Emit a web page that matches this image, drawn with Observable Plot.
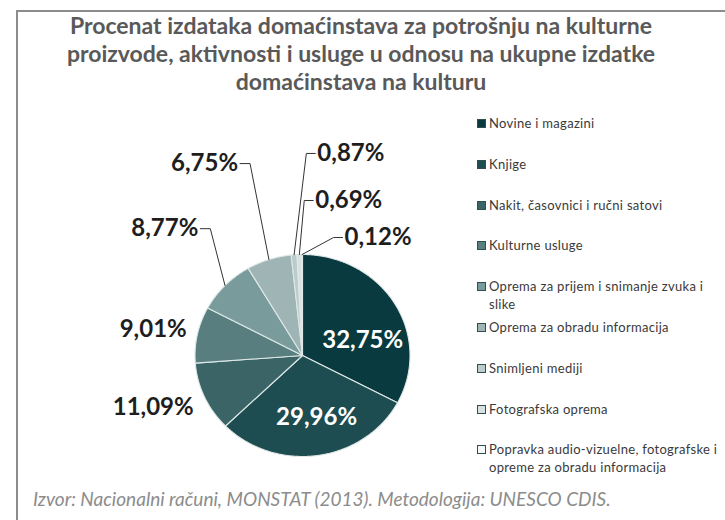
<!DOCTYPE html>
<html><head><meta charset="utf-8">
<script src="https://cdn.jsdelivr.net/npm/d3@7"></script>
<script src="https://cdn.jsdelivr.net/npm/@observablehq/plot@0.6"></script>
<style>
html,body{margin:0;padding:0;background:#fff;}
#wrap{position:relative;width:725px;height:520px;overflow:hidden;font-family:Lato,"Open Sans",sans-serif;background:#fff;}
#frame{position:absolute;left:16px;top:10px;width:800px;height:600px;border:2px solid #8c8c8c;box-sizing:border-box;}
#title{position:absolute;left:0;top:11px;width:722px;text-align:center;font-weight:bold;font-size:23px;line-height:28px;color:#595959;}
#chart{position:absolute;left:0;top:100px;}
#legend{position:absolute;left:476px;top:114px;width:247px;}
.item{position:relative;height:40.8px;font-size:13px;letter-spacing:0.3px;line-height:18px;color:#3a3a3a;padding-left:13px;box-sizing:border-box;}
.sw{position:absolute;left:1px;top:5px;width:9px;height:9px;border:1px solid #2f4f50;box-sizing:border-box;}
#caption{position:absolute;left:33px;top:487px;font-style:italic;font-size:19px;color:#8c8c8c;white-space:nowrap;}
</style></head>
<body>
<div id="wrap">
  <div id="frame"></div>
  <div id="title"></div>
  <div id="chart"></div>
  <div id="legend"></div>
  <div id="caption"></div>
</div>
<script>
// ---- data ----
const titleLines = [
  "Procenat izdataka domaćinstava za potrošnju na kulturne",
  "proizvode, aktivnosti i usluge u odnosu na ukupne izdatke",
  "domaćinstava na kulturu"
];
const categories = [
  "Novine i magazini",
  "Knjige",
  "Nakit, časovnici i ručni satovi",
  "Kulturne usluge",
  "Oprema za prijem i snimanje zvuka i slike",
  "Oprema za obradu informacija",
  "Snimljeni mediji",
  "Fotografska oprema",
  "Popravka audio-vizuelne, fotografske i opreme za obradu informacija"
];
const shares = [32.75, 29.96, 11.09, 9.01, 8.77, 6.75, 0.87, 0.69, 0.12];
const sourceNote = "Izvor: Nacionalni računi, MONSTAT (2013). Metodologija: UNESCO CDIS.";

// ---- styles / layout ----
const colors = ["#083a3f", "#1d4d51", "#3b6466", "#587e7f", "#7a9b9c", "#9fb4b5", "#bccbcc", "#d8e1e1", "#f4f7f7"];
// label placement: angle offset (deg) from slice middle and distance (pie radii)
const labelLayout = [
  {turn: 16, dist: 0.58, place: "in"},
  {turn: -3.8, dist: 0.63, place: "in"},
  {turn: -3.2, dist: 1.12, place: "left"},
  {turn: 2.0, dist: 1.09, place: "left"},
  {turn: 9.0, dist: 1.575, place: "left", leader: true},
  {turn: 1.2, dist: 1.987, place: "left", leader: true},
  {turn: 7.9, dist: 2.004, place: "right", leader: true},
  {turn: 5.4, dist: 1.538, place: "right", leader: true},
  {turn: 17.9, dist: 1.226, place: "right", leader: true}
];

const W = 725, H = 378, cx = 302, cy = 255, rx = 107.5, ry = 101;

document.getElementById("title").innerHTML = titleLines.join("<br>");
document.getElementById("caption").textContent = sourceNote;

const rows = categories.map((name, i) => ({name, v: shares[i], i}));
const arcs = d3.pie().sort(null).value(d => d.v)(rows);
const fmt = v => d3.format(".2f")(v).replace(".", ",") + "%";

const slicePts = arcs.flatMap(a => {
  const name = a.data.name;
  const n = Math.max(2, Math.ceil((a.endAngle - a.startAngle) / (Math.PI / 360)));
  const pts = [{name, px: 0, py: 0}];
  for (let k = 0; k <= n; k++) {
    const t = a.startAngle + (a.endAngle - a.startAngle) * k / n;
    pts.push({name, px: Math.sin(t), py: Math.cos(t)});
  }
  pts.push({name, px: 0, py: 0});
  return pts;
});

const labels = arcs.map((a, i) => {
  const L = labelLayout[i];
  const mid = (a.startAngle + a.endAngle) / 2;
  const ang = mid + L.turn * Math.PI / 180;
  return {
    text: fmt(a.data.v), place: L.place, leader: !!L.leader,
    px: L.dist * Math.sin(ang), py: L.dist * Math.cos(ang),
    ex: Math.sin(mid), ey: Math.cos(mid), name: a.data.name
  };
});

const elbowGap = 10 / rx;
const leaderPts = labels.filter(d => d.leader).flatMap(d => {
  const ex = d.place === "left" ? d.px + elbowGap : d.px - elbowGap * 0.9;
  return [
    {name: d.name, px: d.px, py: d.py},
    {name: d.name, px: ex, py: d.py},
    {name: d.name, px: d.ex, py: d.ey}
  ];
});

const labelFont = "Lato, 'Open Sans', sans-serif";
const plot = Plot.plot({
  width: W, height: H,
  marginTop: 0, marginBottom: 0, marginLeft: 0, marginRight: 0,
  x: {domain: [-cx / rx, (W - cx) / rx], axis: null},
  y: {domain: [-(H - cy) / ry, cy / ry], axis: null},
  color: {domain: categories, range: colors},
  style: {fontFamily: labelFont, background: "transparent"},
  marks: [
    Plot.line(slicePts, {x: "px", y: "py", z: "name", fill: "name", stroke: "#dfe7e7", strokeWidth: 1.1, curve: "linear"}),
    Plot.line(leaderPts, {x: "px", y: "py", z: "name", stroke: "#333", strokeWidth: 1, curve: "linear"}),
    Plot.text(labels.filter(d => d.place === "in"), {x: "px", y: "py", text: "text", fill: "white", fontSize: 24, fontWeight: "bold"}),
    Plot.text(labels.filter(d => d.place === "left"), {x: "px", y: "py", text: "text", fill: "#1e1e1e", fontSize: 24, fontWeight: "bold", textAnchor: "end", dx: -2}),
    Plot.text(labels.filter(d => d.place === "right"), {x: "px", y: "py", text: "text", fill: "#1e1e1e", fontSize: 24, fontWeight: "bold", textAnchor: "start", dx: 2})
  ]
});
document.getElementById("chart").appendChild(plot);

const legend = document.getElementById("legend");
categories.forEach((c, i) => {
  const item = document.createElement("div");
  item.className = "item";
  const sw = document.createElement("span");
  sw.className = "sw";
  sw.style.background = colors[i];
  item.appendChild(sw);
  item.appendChild(document.createTextNode(c));
  legend.appendChild(item);
});
</script>
</body></html>
